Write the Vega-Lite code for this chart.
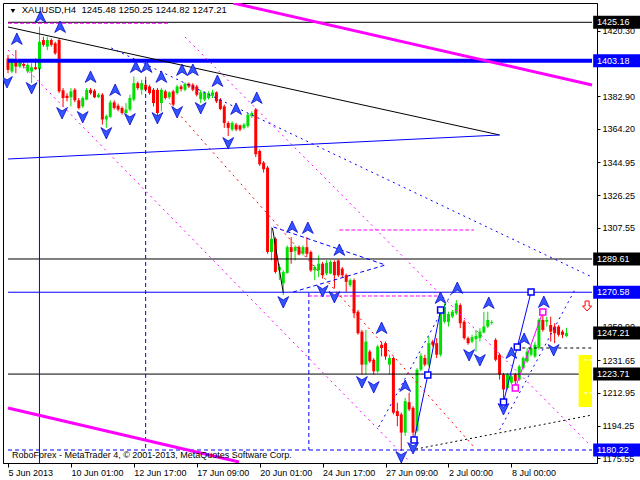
{
 "$schema": "https://vega.github.io/schema/vega-lite/v6.json",
 "width": 594, "height": 460,
 "autosize": {"type": "none"},
 "padding": {"left": 3, "top": 3, "right": 43, "bottom": 17},
 "background": "white",
 "config": {
  "view": {"stroke": "black", "strokeWidth": 1},
  "axis": {"grid": false, "labelFont": "Liberation Sans", "labelFontSize": 9, "labelColor": "black", "domainColor": "black", "tickColor": "black", "domainWidth": 1, "tickWidth": 1, "labelOverlap": false, "labelFlush": false, "labelBound": false},
  "axisY": {"labelOverlap": false},
  "text": {"font": "Liberation Sans"}
 },
 "datasets": {
  "candles": [
   {"i":0,"o":1404.5,"h":1406.5,"l":1396.0,"c":1397.9},
   {"i":1,"o":1397.0,"h":1404.5,"l":1396.0,"c":1402.7},
   {"i":2,"o":1403.6,"h":1409.3,"l":1396.0,"c":1399.8},
   {"i":3,"o":1399.8,"h":1403.6,"l":1398.8,"c":1402.7},
   {"i":4,"o":1401.3,"h":1402.7,"l":1398.8,"c":1400.2},
   {"i":5,"o":1397.0,"h":1401.7,"l":1396.0,"c":1400.8},
   {"i":6,"o":1397.0,"h":1401.7,"l":1390.3,"c":1399.4},
   {"i":7,"o":1399.4,"h":1404.5,"l":1397.9,"c":1398.3},
   {"i":8,"o":1398.3,"h":1422.6,"l":1394.1,"c":1414.0},
   {"i":9,"o":1415.0,"h":1416.9,"l":1411.2,"c":1412.2},
   {"i":10,"o":1411.2,"h":1416.9,"l":1409.3,"c":1415.0},
   {"i":11,"o":1415.0,"h":1415.9,"l":1411.2,"c":1412.2},
   {"i":12,"o":1413.1,"h":1414.0,"l":1406.5,"c":1407.4},
   {"i":13,"o":1415.0,"h":1415.9,"l":1384.6,"c":1385.6},
   {"i":14,"o":1386.2,"h":1387.5,"l":1377.0,"c":1381.8},
   {"i":15,"o":1383.1,"h":1384.6,"l":1379.9,"c":1381.8},
   {"i":16,"o":1382.2,"h":1387.5,"l":1377.0,"c":1385.6},
   {"i":17,"o":1386.5,"h":1387.5,"l":1379.3,"c":1380.5},
   {"i":18,"o":1380.5,"h":1381.8,"l":1375.2,"c":1376.1},
   {"i":19,"o":1377.0,"h":1382.7,"l":1376.1,"c":1381.8},
   {"i":20,"o":1380.9,"h":1387.5,"l":1380.5,"c":1386.5},
   {"i":21,"o":1386.5,"h":1387.5,"l":1383.7,"c":1384.6},
   {"i":22,"o":1386.0,"h":1386.9,"l":1381.8,"c":1382.2},
   {"i":23,"o":1382.3,"h":1384.6,"l":1381.8,"c":1383.7},
   {"i":24,"o":1383.7,"h":1384.6,"l":1366.6,"c":1369.5},
   {"i":25,"o":1369.5,"h":1372.3,"l":1364.7,"c":1371.4},
   {"i":26,"o":1371.0,"h":1380.5,"l":1370.4,"c":1379.3},
   {"i":27,"o":1379.3,"h":1380.5,"l":1375.2,"c":1376.1},
   {"i":28,"o":1377.4,"h":1378.6,"l":1374.2,"c":1375.2},
   {"i":29,"o":1376.1,"h":1377.0,"l":1372.3,"c":1373.2},
   {"i":30,"o":1373.2,"h":1378.9,"l":1372.3,"c":1375.2},
   {"i":31,"o":1375.2,"h":1383.7,"l":1374.2,"c":1381.8},
   {"i":32,"o":1380.9,"h":1394.1,"l":1379.9,"c":1390.3},
   {"i":33,"o":1390.3,"h":1391.3,"l":1386.5,"c":1387.5},
   {"i":34,"o":1386.5,"h":1392.2,"l":1383.7,"c":1390.3},
   {"i":35,"o":1389.4,"h":1394.1,"l":1385.6,"c":1386.5},
   {"i":36,"o":1388.4,"h":1389.4,"l":1383.7,"c":1384.6},
   {"i":37,"o":1386.5,"h":1387.5,"l":1377.0,"c":1378.9},
   {"i":38,"o":1386.5,"h":1387.5,"l":1371.4,"c":1373.2},
   {"i":39,"o":1378.9,"h":1387.5,"l":1374.2,"c":1386.5},
   {"i":40,"o":1385.6,"h":1386.5,"l":1380.9,"c":1381.8},
   {"i":41,"o":1382.2,"h":1385.6,"l":1381.2,"c":1385.0},
   {"i":42,"o":1385.6,"h":1386.5,"l":1377.0,"c":1378.0},
   {"i":43,"o":1384.6,"h":1389.4,"l":1383.7,"c":1388.4},
   {"i":44,"o":1388.4,"h":1389.4,"l":1385.6,"c":1386.9},
   {"i":45,"o":1386.5,"h":1390.7,"l":1385.6,"c":1390.0},
   {"i":46,"o":1390.0,"h":1390.7,"l":1387.5,"c":1388.4},
   {"i":47,"o":1389.4,"h":1390.3,"l":1385.6,"c":1386.5},
   {"i":48,"o":1388.4,"h":1389.4,"l":1382.7,"c":1383.7},
   {"i":49,"o":1381.2,"h":1386.5,"l":1378.9,"c":1385.0},
   {"i":50,"o":1380.9,"h":1385.6,"l":1379.9,"c":1385.0},
   {"i":51,"o":1381.8,"h":1385.6,"l":1380.9,"c":1384.6},
   {"i":52,"o":1383.1,"h":1386.5,"l":1381.8,"c":1385.0},
   {"i":53,"o":1385.0,"h":1385.6,"l":1378.9,"c":1379.9},
   {"i":54,"o":1380.9,"h":1381.8,"l":1374.8,"c":1375.5},
   {"i":55,"o":1377.0,"h":1378.0,"l":1364.7,"c":1367.5},
   {"i":56,"o":1367.5,"h":1368.5,"l":1360.0,"c":1364.7},
   {"i":57,"o":1363.8,"h":1368.5,"l":1362.8,"c":1367.5},
   {"i":58,"o":1366.6,"h":1367.5,"l":1362.8,"c":1363.8},
   {"i":59,"o":1366.1,"h":1366.6,"l":1362.8,"c":1363.8},
   {"i":60,"o":1364.7,"h":1367.5,"l":1363.8,"c":1366.6},
   {"i":61,"o":1365.7,"h":1373.2,"l":1364.7,"c":1372.3},
   {"i":62,"o":1371.4,"h":1374.2,"l":1370.4,"c":1373.2},
   {"i":63,"o":1375.2,"h":1376.1,"l":1348.0,"c":1349.6},
   {"i":64,"o":1351.4,"h":1352.4,"l":1342.9,"c":1343.9},
   {"i":65,"o":1344.8,"h":1345.7,"l":1339.1,"c":1341.0},
   {"i":66,"o":1341.9,"h":1342.9,"l":1292.6,"c":1293.6},
   {"i":67,"o":1293.6,"h":1307.8,"l":1288.8,"c":1301.2},
   {"i":68,"o":1301.2,"h":1302.1,"l":1281.3,"c":1282.2},
   {"i":69,"o":1283.1,"h":1286.9,"l":1277.5,"c":1285.0},
   {"i":70,"o":1275.6,"h":1283.1,"l":1268.9,"c":1282.2},
   {"i":71,"o":1281.6,"h":1297.4,"l":1281.3,"c":1296.4},
   {"i":72,"o":1296.4,"h":1302.1,"l":1286.9,"c":1293.6},
   {"i":73,"o":1294.1,"h":1297.4,"l":1288.8,"c":1296.4},
   {"i":74,"o":1296.4,"h":1297.4,"l":1291.7,"c":1292.2},
   {"i":75,"o":1292.6,"h":1297.4,"l":1291.7,"c":1296.4},
   {"i":76,"o":1296.4,"h":1302.1,"l":1290.7,"c":1292.6},
   {"i":77,"o":1293.6,"h":1294.5,"l":1282.2,"c":1283.1},
   {"i":78,"o":1283.1,"h":1286.0,"l":1277.5,"c":1285.0},
   {"i":79,"o":1283.1,"h":1291.7,"l":1279.3,"c":1286.9},
   {"i":80,"o":1286.9,"h":1287.9,"l":1278.4,"c":1280.3},
   {"i":81,"o":1281.3,"h":1288.8,"l":1280.3,"c":1287.3},
   {"i":82,"o":1281.3,"h":1288.8,"l":1280.9,"c":1287.9},
   {"i":83,"o":1287.9,"h":1288.8,"l":1272.7,"c":1280.3},
   {"i":84,"o":1288.8,"h":1289.2,"l":1279.3,"c":1280.3},
   {"i":85,"o":1284.1,"h":1285.0,"l":1279.3,"c":1280.3},
   {"i":86,"o":1280.3,"h":1281.3,"l":1270.8,"c":1276.5},
   {"i":87,"o":1274.6,"h":1278.4,"l":1273.6,"c":1277.5},
   {"i":88,"o":1277.5,"h":1278.4,"l":1255.7,"c":1258.5},
   {"i":89,"o":1259.4,"h":1260.4,"l":1246.2,"c":1247.1},
   {"i":90,"o":1248.0,"h":1249.0,"l":1223.4,"c":1229.1},
   {"i":91,"o":1229.1,"h":1249.0,"l":1223.4,"c":1242.3},
   {"i":92,"o":1236.6,"h":1237.6,"l":1230.1,"c":1231.0},
   {"i":93,"o":1231.9,"h":1232.9,"l":1223.4,"c":1225.3},
   {"i":94,"o":1225.3,"h":1240.5,"l":1224.4,"c":1239.5},
   {"i":95,"o":1240.5,"h":1242.3,"l":1233.8,"c":1238.6},
   {"i":96,"o":1241.4,"h":1242.3,"l":1231.9,"c":1233.8},
   {"i":97,"o":1229.1,"h":1234.8,"l":1223.4,"c":1232.9},
   {"i":98,"o":1232.9,"h":1233.8,"l":1200.6,"c":1201.6},
   {"i":99,"o":1202.5,"h":1207.3,"l":1193.9,"c":1199.7},
   {"i":100,"o":1200.6,"h":1201.6,"l":1179.7,"c":1190.2},
   {"i":101,"o":1190.2,"h":1210.1,"l":1188.3,"c":1208.2},
   {"i":102,"o":1207.6,"h":1213.0,"l":1202.5,"c":1203.5},
   {"i":103,"o":1204.4,"h":1205.3,"l":1186.4,"c":1190.2},
   {"i":104,"o":1191.1,"h":1227.2,"l":1190.2,"c":1226.2},
   {"i":105,"o":1226.2,"h":1235.7,"l":1225.3,"c":1234.2},
   {"i":106,"o":1232.9,"h":1234.8,"l":1228.1,"c":1229.1},
   {"i":107,"o":1229.1,"h":1245.2,"l":1228.1,"c":1241.4},
   {"i":108,"o":1242.3,"h":1243.3,"l":1239.5,"c":1240.5},
   {"i":109,"o":1241.4,"h":1244.3,"l":1232.9,"c":1234.8},
   {"i":110,"o":1234.8,"h":1259.4,"l":1233.8,"c":1258.5},
   {"i":111,"o":1253.7,"h":1264.2,"l":1252.8,"c":1262.3},
   {"i":112,"o":1253.5,"h":1259.4,"l":1250.9,"c":1258.1},
   {"i":113,"o":1256.6,"h":1260.4,"l":1255.7,"c":1259.4},
   {"i":114,"o":1258.5,"h":1266.1,"l":1257.5,"c":1264.2},
   {"i":115,"o":1263.2,"h":1264.2,"l":1250.0,"c":1252.8},
   {"i":116,"o":1253.7,"h":1254.7,"l":1243.3,"c":1244.3},
   {"i":117,"o":1244.3,"h":1245.2,"l":1240.5,"c":1241.4},
   {"i":118,"o":1242.3,"h":1246.2,"l":1241.4,"c":1244.8},
   {"i":119,"o":1243.7,"h":1249.0,"l":1236.6,"c":1245.6},
   {"i":120,"o":1244.3,"h":1250.0,"l":1242.3,"c":1248.0},
   {"i":121,"o":1247.5,"h":1259.4,"l":1247.1,"c":1250.9},
   {"i":122,"o":1250.9,"h":1259.4,"l":1250.0,"c":1254.7},
   {"i":123,"o":1253.0,"h":1254.5,"l":1252.0,"c":1253.5},
   {"i":124,"o":1243.3,"h":1244.3,"l":1231.0,"c":1231.9},
   {"i":125,"o":1234.8,"h":1235.7,"l":1220.5,"c":1223.4},
   {"i":126,"o":1223.4,"h":1224.4,"l":1208.2,"c":1214.9},
   {"i":127,"o":1215.8,"h":1224.4,"l":1214.9,"c":1223.4},
   {"i":128,"o":1218.7,"h":1223.4,"l":1217.7,"c":1222.4},
   {"i":129,"o":1223.4,"h":1224.4,"l":1216.0,"c":1219.6},
   {"i":130,"o":1220.5,"h":1229.1,"l":1219.6,"c":1228.1},
   {"i":131,"o":1227.2,"h":1233.8,"l":1226.2,"c":1232.9},
   {"i":132,"o":1231.0,"h":1238.6,"l":1230.1,"c":1236.6},
   {"i":133,"o":1234.8,"h":1240.5,"l":1233.8,"c":1238.6},
   {"i":134,"o":1233.8,"h":1242.3,"l":1232.9,"c":1240.5},
   {"i":135,"o":1238.6,"h":1255.7,"l":1237.6,"c":1254.7},
   {"i":136,"o":1254.7,"h":1259.4,"l":1248.0,"c":1249.0},
   {"i":137,"o":1253.7,"h":1256.6,"l":1250.9,"c":1254.7},
   {"i":138,"o":1251.8,"h":1256.6,"l":1242.3,"c":1248.0},
   {"i":139,"o":1250.9,"h":1252.8,"l":1241.4,"c":1247.1},
   {"i":140,"o":1250.9,"h":1251.8,"l":1245.2,"c":1246.2},
   {"i":141,"o":1248.0,"h":1249.0,"l":1244.3,"c":1246.2},
   {"i":142,"o":1245.48,"h":1250.25,"l":1244.82,"c":1247.21}
  ],
  "thickBlue": [{"i":0,"p":1403.18,"i2":148.5,"p2":1403.18}],
  "blackSolid": [
   {"i":0,"p":1425.16,"i2":148.5,"p2":1425.16},
   {"i":0,"p":1289.61,"i2":148.5,"p2":1289.61},
   {"i":0,"p":1223.71,"i2":148.5,"p2":1223.71},
   {"i":0,"p":1422.47,"i2":125,"p2":1360.62},
   {"i":67.25,"p":1307.36,"i2":70,"p2":1270.14}
  ],
  "blueSolid": [
   {"i":0,"p":1270.58,"i2":148.5,"p2":1270.58},
   {"i":0,"p":1346.87,"i2":125,"p2":1360.62},
   {"i":8,"p":1399.0,"i2":8,"p2":1172.78},
   {"i":103.25,"p":1185.96,"i2":106.75,"p2":1223.18},
   {"i":106.75,"p":1223.18,"i2":110,"p2":1260.40},
   {"i":126,"p":1207.72,"i2":129.5,"p2":1239.21},
   {"i":129.5,"p":1239.21,"i2":133,"p2":1270.71}
  ],
  "blueDashed": [
   {"i":0,"p":1180.22,"i2":148.5,"p2":1180.22},
   {"i":35,"p":1392.12,"i2":35,"p2":1180.22},
   {"i":76.5,"p":1270.14,"i2":76.5,"p2":1180.22},
   {"i":67.5,"p":1307.94,"i2":96,"p2":1286.17},
   {"i":72.5,"p":1270.71,"i2":96,"p2":1286.17}
  ],
  "blueDotted": [
   {"i":26.25,"p":1410.44,"i2":148.5,"p2":1279.30},
   {"i":94.25,"p":1193.40,"i2":113.25,"p2":1271.86},
   {"i":125,"p":1191.68,"i2":144.25,"p2":1272.43}
  ],
  "magentaDotted": [
   {"i":0,"p":1409.30,"i2":101.75,"p2":1174.50},
   {"i":45,"p":1416.74,"i2":147.5,"p2":1184.24}
  ],
  "magentaDashed": [
   {"i":0,"p":1424.6,"i2":41,"p2":1424.6},
   {"i":84.25,"p":1306.22,"i2":118.5,"p2":1306.22},
   {"i":76.25,"p":1268.42,"i2":109.25,"p2":1268.42}
  ],
  "magentaSolid": [{"i":129,"p":1215.74,"i2":136,"p2":1259.26}],
  "redDotted": [{"i":41,"p":1378.95,"i2":118.5,"p2":1181.95}],
  "blackDashed": [{"i":129.25,"p":1238.64,"i2":148.5,"p2":1238.64}],
  "blackDotted": [{"i":102.5,"p":1180.23,"i2":148.5,"p2":1200.27}],
  "thickMagenta": [
   {"i":57.25,"p":1436.21,"i2":148.5,"p2":1389.26},
   {"i":0,"p":1204.29,"i2":58.75,"p2":1173.35}
  ],
  "yellowZone": [{"i":145.1,"p":1234.63,"i2":148.5,"p2":1204.85}],
  "whiteDashes": [
   {"i":146.5,"p":1231.77,"i2":148.5,"p2":1231.77},
   {"i":146.5,"p":1212.88,"i2":148.5,"p2":1212.88}
  ],
  "blueSquares": [
   {"i":103.25,"p":1185.96},{"i":106.75,"p":1223.18},{"i":110,"p":1260.40},
   {"i":126,"p":1207.72},{"i":129.5,"p":1239.21},{"i":133,"p":1270.71}
  ],
  "pinkSquares": [{"i":129,"p":1215.74},{"i":136,"p":1259.26}],
  "upArrows": [
   {"i":2.25,"p":1415.60},{"i":8.25,"p":1428.19},{"i":13.25,"p":1422.47},{"i":21,"p":1393.84},
   {"i":27.25,"p":1386.39},{"i":32.5,"p":1399.56},{"i":35.25,"p":1399.56},{"i":39,"p":1393.84},
   {"i":44.25,"p":1397.84},{"i":47,"p":1397.84},{"i":53.25,"p":1391.54},{"i":58,"p":1375.51},
   {"i":63.25,"p":1381.81},{"i":72.25,"p":1307.94},{"i":76.25,"p":1307.36},{"i":84.25,"p":1294.76},
   {"i":95,"p":1250.09},{"i":101,"p":1216.88},{"i":110,"p":1267.27},{"i":114.25,"p":1273.00},
   {"i":122.25,"p":1264.41},{"i":128,"p":1235.78},{"i":131.25,"p":1243.79},{"i":136.25,"p":1264.98}
  ],
  "downArrows": [
   {"i":-0.25,"p":1390.97},{"i":6,"p":1387.54},{"i":13.75,"p":1373.22},{"i":19,"p":1370.93},
   {"i":25,"p":1361.77},{"i":31,"p":1369.78},{"i":38,"p":1370.36},{"i":43,"p":1373.79},
   {"i":49,"p":1376.08},{"i":56,"p":1356.04},{"i":70,"p":1264.98},{"i":80,"p":1271.29},
   {"i":83,"p":1267.85},{"i":90,"p":1219.17},{"i":93,"p":1216.31},{"i":100,"p":1176.22},
   {"i":103,"p":1181.37},{"i":117.25,"p":1234.63},{"i":120,"p":1231.77},{"i":126,"p":1203.71},
   {"i":138.75,"p":1237.50}
  ],
  "redArrow": [{"i":147.25,"p":1262.69}],
  "titleMark": [{"i":1.25,"p":1431.63}],
  "titleText": [{"i":3.5,"p":1431.92,"t":"XAUUSD,H4\u00a0 1245.48 1250.25 1244.82 1247.21"}],
  "copyright": [{"i":1,"p":1177.08,"t":"RoboForex - MetaTrader 4, © 2001-2013, MetaQuotes Software Corp."}],
  "blackBoxes": [{"p":1425.16,"t":"1425.16"},{"p":1289.61,"t":"1289.61"},{"p":1247.21,"t":"1247.21"},{"p":1223.71,"t":"1223.71"}],
  "blueBoxes": [{"p":1403.18,"t":"1403.18"},{"p":1270.58,"t":"1270.58"},{"p":1180.22,"t":"1180.22"}]
 },
 "layer": [
  {"data": {"name": "candles"}, "mark": {"type": "rule", "strokeWidth": 1},
   "encoding": {
    "x": {"field": "i", "type": "quantitative", "title": null,
     "scale": {"domain": [0, 148.5], "nice": false, "zero": false},
     "axis": {"values": [0,16,32,48,64,80,96,112,128],
      "labelExpr": "['5 Jun 2013','10 Jun 01:00','12 Jun 17:00','17 Jun 09:00','20 Jun 01:00','24 Jun 17:00','27 Jun 09:00','2 Jul 00:00','8 Jul 00:00'][round(datum.value/16)]",
      "labelAlign": "left", "labelBaseline": "top", "tickSize": 4, "labelPadding": 1, "labelFlush": false, "labelOverlap": false}},
    "y": {"field": "l", "type": "quantitative", "title": null,
     "scale": {"domain": [1172.78, 1436.21], "nice": false, "zero": false},
     "axis": {"orient": "right", "values": [1420.30,1382.90,1364.20,1344.95,1326.25,1307.55,1250.90,1231.65,1212.95,1194.25,1175.55],
      "format": ".2f", "tickSize": 3, "labelPadding": 2, "labelBaseline": "middle", "labelFlush": false, "labelOverlap": false}},
    "y2": {"field": "h"},
    "color": {"condition": {"test": "datum.c >= datum.o", "value": "#00E000"}, "value": "#FF0000"}}},
  {"data": {"name": "candles"}, "mark": {"type": "bar", "size": 3},
   "encoding": {
    "x": {"field": "i", "type": "quantitative", "title": null, "scale": {"domain": [0, 148.5], "nice": false, "zero": false}},
    "y": {"field": "o", "type": "quantitative", "title": null, "scale": {"domain": [1172.78, 1436.21], "nice": false, "zero": false}},
    "y2": {"field": "c"},
    "color": {"condition": {"test": "datum.c >= datum.o", "value": "#00E000"}, "value": "#FF0000"}}},
  {"data": {"name": "thickBlue"}, "mark": {"type": "rule", "color": "#0000FF", "strokeWidth": 4, "clip": true},
   "encoding": {"x": {"field": "i", "type": "quantitative", "title": null, "scale": {"domain": [0, 148.5], "nice": false, "zero": false}}, "y": {"field": "p", "type": "quantitative", "title": null, "scale": {"domain": [1172.78, 1436.21], "nice": false, "zero": false}}, "x2": {"field": "i2"}, "y2": {"field": "p2"}}},
  {"data": {"name": "blackSolid"}, "mark": {"type": "rule", "color": "black", "strokeWidth": 1, "clip": true},
   "encoding": {"x": {"field": "i", "type": "quantitative", "title": null, "scale": {"domain": [0, 148.5], "nice": false, "zero": false}}, "y": {"field": "p", "type": "quantitative", "title": null, "scale": {"domain": [1172.78, 1436.21], "nice": false, "zero": false}}, "x2": {"field": "i2"}, "y2": {"field": "p2"}}},
  {"data": {"name": "blueSolid"}, "mark": {"type": "rule", "color": "#0000FF", "strokeWidth": 1, "clip": true},
   "encoding": {"x": {"field": "i", "type": "quantitative", "title": null, "scale": {"domain": [0, 148.5], "nice": false, "zero": false}}, "y": {"field": "p", "type": "quantitative", "title": null, "scale": {"domain": [1172.78, 1436.21], "nice": false, "zero": false}}, "x2": {"field": "i2"}, "y2": {"field": "p2"}}},
  {"data": {"name": "blueDashed"}, "mark": {"type": "rule", "color": "#0000FF", "strokeWidth": 1, "strokeDash": [4, 3], "clip": true},
   "encoding": {"x": {"field": "i", "type": "quantitative", "title": null, "scale": {"domain": [0, 148.5], "nice": false, "zero": false}}, "y": {"field": "p", "type": "quantitative", "title": null, "scale": {"domain": [1172.78, 1436.21], "nice": false, "zero": false}}, "x2": {"field": "i2"}, "y2": {"field": "p2"}}},
  {"data": {"name": "blueDotted"}, "mark": {"type": "rule", "color": "#0000FF", "strokeWidth": 1, "strokeDash": [2, 4], "clip": true},
   "encoding": {"x": {"field": "i", "type": "quantitative", "title": null, "scale": {"domain": [0, 148.5], "nice": false, "zero": false}}, "y": {"field": "p", "type": "quantitative", "title": null, "scale": {"domain": [1172.78, 1436.21], "nice": false, "zero": false}}, "x2": {"field": "i2"}, "y2": {"field": "p2"}}},
  {"data": {"name": "magentaDotted"}, "mark": {"type": "rule", "color": "#FF00FF", "strokeWidth": 1, "strokeDash": [2, 4], "clip": true},
   "encoding": {"x": {"field": "i", "type": "quantitative", "title": null, "scale": {"domain": [0, 148.5], "nice": false, "zero": false}}, "y": {"field": "p", "type": "quantitative", "title": null, "scale": {"domain": [1172.78, 1436.21], "nice": false, "zero": false}}, "x2": {"field": "i2"}, "y2": {"field": "p2"}}},
  {"data": {"name": "magentaDashed"}, "mark": {"type": "rule", "color": "#FF00FF", "strokeWidth": 1, "strokeDash": [4, 2], "clip": true},
   "encoding": {"x": {"field": "i", "type": "quantitative", "title": null, "scale": {"domain": [0, 148.5], "nice": false, "zero": false}}, "y": {"field": "p", "type": "quantitative", "title": null, "scale": {"domain": [1172.78, 1436.21], "nice": false, "zero": false}}, "x2": {"field": "i2"}, "y2": {"field": "p2"}}},
  {"data": {"name": "magentaSolid"}, "mark": {"type": "rule", "color": "#FF00FF", "strokeWidth": 1, "clip": true},
   "encoding": {"x": {"field": "i", "type": "quantitative", "title": null, "scale": {"domain": [0, 148.5], "nice": false, "zero": false}}, "y": {"field": "p", "type": "quantitative", "title": null, "scale": {"domain": [1172.78, 1436.21], "nice": false, "zero": false}}, "x2": {"field": "i2"}, "y2": {"field": "p2"}}},
  {"data": {"name": "redDotted"}, "mark": {"type": "rule", "color": "#FF0000", "strokeWidth": 1, "strokeDash": [2, 4], "clip": true},
   "encoding": {"x": {"field": "i", "type": "quantitative", "title": null, "scale": {"domain": [0, 148.5], "nice": false, "zero": false}}, "y": {"field": "p", "type": "quantitative", "title": null, "scale": {"domain": [1172.78, 1436.21], "nice": false, "zero": false}}, "x2": {"field": "i2"}, "y2": {"field": "p2"}}},
  {"data": {"name": "blackDashed"}, "mark": {"type": "rule", "color": "black", "strokeWidth": 1, "strokeDash": [3, 3], "clip": true},
   "encoding": {"x": {"field": "i", "type": "quantitative", "title": null, "scale": {"domain": [0, 148.5], "nice": false, "zero": false}}, "y": {"field": "p", "type": "quantitative", "title": null, "scale": {"domain": [1172.78, 1436.21], "nice": false, "zero": false}}, "x2": {"field": "i2"}, "y2": {"field": "p2"}}},
  {"data": {"name": "blackDotted"}, "mark": {"type": "rule", "color": "black", "strokeWidth": 1, "strokeDash": [2, 3], "clip": true},
   "encoding": {"x": {"field": "i", "type": "quantitative", "title": null, "scale": {"domain": [0, 148.5], "nice": false, "zero": false}}, "y": {"field": "p", "type": "quantitative", "title": null, "scale": {"domain": [1172.78, 1436.21], "nice": false, "zero": false}}, "x2": {"field": "i2"}, "y2": {"field": "p2"}}},
  {"data": {"name": "thickMagenta"}, "mark": {"type": "rule", "color": "#FF00FF", "strokeWidth": 3, "clip": true},
   "encoding": {"x": {"field": "i", "type": "quantitative", "title": null, "scale": {"domain": [0, 148.5], "nice": false, "zero": false}}, "y": {"field": "p", "type": "quantitative", "title": null, "scale": {"domain": [1172.78, 1436.21], "nice": false, "zero": false}}, "x2": {"field": "i2"}, "y2": {"field": "p2"}}},
  {"data": {"name": "yellowZone"}, "mark": {"type": "rect", "color": "#FFFF00", "clip": true},
   "encoding": {"x": {"field": "i", "type": "quantitative", "title": null, "scale": {"domain": [0, 148.5], "nice": false, "zero": false}}, "y": {"field": "p", "type": "quantitative", "title": null, "scale": {"domain": [1172.78, 1436.21], "nice": false, "zero": false}}, "x2": {"field": "i2"}, "y2": {"field": "p2"}}},
  {"data": {"name": "whiteDashes"}, "mark": {"type": "rule", "color": "white", "strokeWidth": 1, "strokeDash": [3, 2], "clip": true},
   "encoding": {"x": {"field": "i", "type": "quantitative", "title": null, "scale": {"domain": [0, 148.5], "nice": false, "zero": false}}, "y": {"field": "p", "type": "quantitative", "title": null, "scale": {"domain": [1172.78, 1436.21], "nice": false, "zero": false}}, "x2": {"field": "i2"}, "y2": {"field": "p2"}}},
  {"data": {"name": "blueSquares"}, "mark": {"type": "point", "shape": "square", "size": 36, "filled": true, "fill": "white", "stroke": "#0000FF", "strokeWidth": 1.5, "opacity": 1},
   "encoding": {"x": {"field": "i", "type": "quantitative", "title": null, "scale": {"domain": [0, 148.5], "nice": false, "zero": false}}, "y": {"field": "p", "type": "quantitative", "title": null, "scale": {"domain": [1172.78, 1436.21], "nice": false, "zero": false}}}},
  {"data": {"name": "pinkSquares"}, "mark": {"type": "point", "shape": "square", "size": 36, "filled": true, "fill": "white", "stroke": "#FF00FF", "strokeWidth": 1.5, "opacity": 1},
   "encoding": {"x": {"field": "i", "type": "quantitative", "title": null, "scale": {"domain": [0, 148.5], "nice": false, "zero": false}}, "y": {"field": "p", "type": "quantitative", "title": null, "scale": {"domain": [1172.78, 1436.21], "nice": false, "zero": false}}}},
  {"data": {"name": "upArrows"}, "mark": {"type": "point", "shape": "M0,-1L0.9,0.9L0,0.35L-0.9,0.9Z", "size": 144, "filled": true, "fill": "#3355FF", "stroke": "#0A0AD0", "strokeWidth": 0.8, "opacity": 1, "clip": true},
   "encoding": {"x": {"field": "i", "type": "quantitative", "title": null, "scale": {"domain": [0, 148.5], "nice": false, "zero": false}}, "y": {"field": "p", "type": "quantitative", "title": null, "scale": {"domain": [1172.78, 1436.21], "nice": false, "zero": false}}}},
  {"data": {"name": "downArrows"}, "mark": {"type": "point", "shape": "M0,1L0.9,-0.9L0,-0.35L-0.9,-0.9Z", "size": 144, "filled": true, "fill": "#3355FF", "stroke": "#0A0AD0", "strokeWidth": 0.8, "opacity": 1, "clip": true},
   "encoding": {"x": {"field": "i", "type": "quantitative", "title": null, "scale": {"domain": [0, 148.5], "nice": false, "zero": false}}, "y": {"field": "p", "type": "quantitative", "title": null, "scale": {"domain": [1172.78, 1436.21], "nice": false, "zero": false}}}},
  {"data": {"name": "redArrow"}, "mark": {"type": "point", "shape": "M-0.4,-1L0.4,-1L0.4,0L0.9,0L0,1L-0.9,0L-0.4,0Z", "size": 100, "filled": true, "fill": "white", "stroke": "#FF0000", "strokeWidth": 1, "opacity": 1},
   "encoding": {"x": {"field": "i", "type": "quantitative", "title": null, "scale": {"domain": [0, 148.5], "nice": false, "zero": false}}, "y": {"field": "p", "type": "quantitative", "title": null, "scale": {"domain": [1172.78, 1436.21], "nice": false, "zero": false}}}},
  {"data": {"name": "titleMark"}, "mark": {"type": "point", "shape": "triangle-down", "size": 22, "filled": true, "color": "black", "opacity": 1},
   "encoding": {"x": {"field": "i", "type": "quantitative", "title": null, "scale": {"domain": [0, 148.5], "nice": false, "zero": false}}, "y": {"field": "p", "type": "quantitative", "title": null, "scale": {"domain": [1172.78, 1436.21], "nice": false, "zero": false}}}},
  {"data": {"name": "titleText"}, "mark": {"type": "text", "align": "left", "baseline": "middle", "fontSize": 9.5, "color": "black"},
   "encoding": {"x": {"field": "i", "type": "quantitative", "title": null, "scale": {"domain": [0, 148.5], "nice": false, "zero": false}}, "y": {"field": "p", "type": "quantitative", "title": null, "scale": {"domain": [1172.78, 1436.21], "nice": false, "zero": false}}, "text": {"field": "t"}}},
  {"data": {"name": "copyright"}, "mark": {"type": "text", "align": "left", "baseline": "middle", "fontSize": 9, "color": "black"},
   "encoding": {"x": {"field": "i", "type": "quantitative", "title": null, "scale": {"domain": [0, 148.5], "nice": false, "zero": false}}, "y": {"field": "p", "type": "quantitative", "title": null, "scale": {"domain": [1172.78, 1436.21], "nice": false, "zero": false}}, "text": {"field": "t"}}},
  {"data": {"name": "blackBoxes"}, "mark": {"type": "rule", "color": "black", "strokeWidth": 13, "strokeCap": "butt", "clip": false, "invalid": "show"},
   "encoding": {"x": {"datum": 148.8, "type": "quantitative", "title": null, "scale": {"domain": [0, 148.5], "nice": false, "zero": false}}, "x2": {"datum": 161}, "y": {"field": "p", "type": "quantitative", "title": null, "scale": {"domain": [1172.78, 1436.21], "nice": false, "zero": false}}}},
  {"data": {"name": "blueBoxes"}, "mark": {"type": "rule", "color": "#0000FF", "strokeWidth": 13, "strokeCap": "butt", "clip": false, "invalid": "show"},
   "encoding": {"x": {"datum": 148.8, "type": "quantitative", "title": null, "scale": {"domain": [0, 148.5], "nice": false, "zero": false}}, "x2": {"datum": 161}, "y": {"field": "p", "type": "quantitative", "title": null, "scale": {"domain": [1172.78, 1436.21], "nice": false, "zero": false}}}},
  {"data": {"name": "blackBoxes"}, "mark": {"type": "text", "align": "left", "baseline": "middle", "fontSize": 9, "color": "white", "clip": false, "invalid": "show"},
   "encoding": {"x": {"datum": 149.75, "type": "quantitative", "title": null, "scale": {"domain": [0, 148.5], "nice": false, "zero": false}}, "y": {"field": "p", "type": "quantitative", "title": null, "scale": {"domain": [1172.78, 1436.21], "nice": false, "zero": false}}, "text": {"field": "t"}}},
  {"data": {"name": "blueBoxes"}, "mark": {"type": "text", "align": "left", "baseline": "middle", "fontSize": 9, "color": "white", "clip": false, "invalid": "show"},
   "encoding": {"x": {"datum": 149.75, "type": "quantitative", "title": null, "scale": {"domain": [0, 148.5], "nice": false, "zero": false}}, "y": {"field": "p", "type": "quantitative", "title": null, "scale": {"domain": [1172.78, 1436.21], "nice": false, "zero": false}}, "text": {"field": "t"}}}
 ]
}
